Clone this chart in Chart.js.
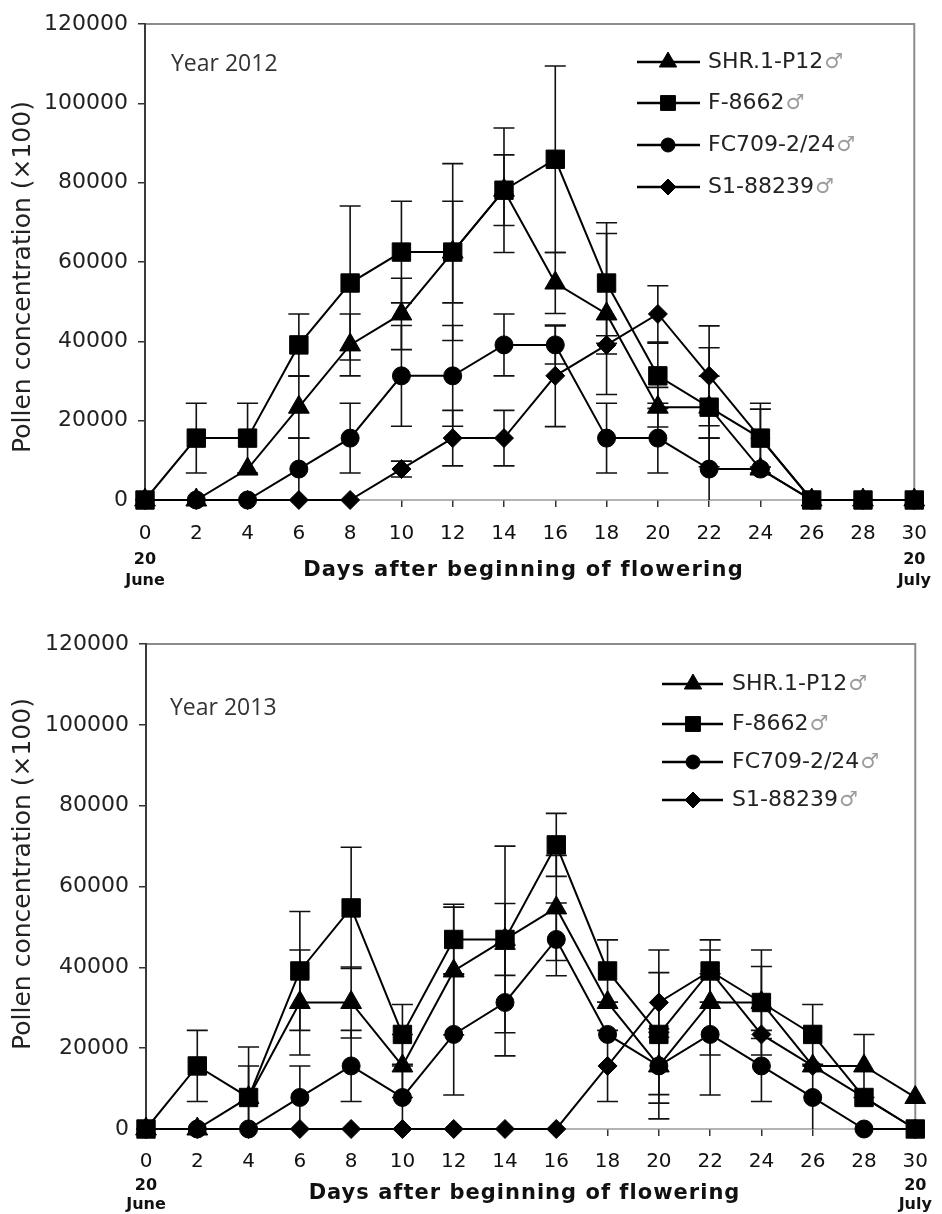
<!DOCTYPE html>
<html>
<head>
<meta charset="utf-8">
<script src="https://cdn.jsdelivr.net/npm/chart.js@4.4.1/dist/chart.umd.min.js"></script>
<style>
html,body{margin:0;padding:0;background:#fff;}
#wrap{position:relative;width:942px;height:1214px;overflow:hidden;}
canvas{position:absolute;left:0;}
#c1{top:0;}
#c2{top:600px;}
</style>
</head>
<body>
<div id="wrap">
<canvas id="c1" width="942" height="600"></canvas>
<canvas id="c2" width="942" height="614"></canvas>
</div>
<script>
// ---------- data ----------
const days = [0, 2, 4, 6, 8, 10, 12, 14, 16, 18, 20, 22, 24, 26, 28, 30];
const xTicks = [0, 2, 4, 6, 8, 10, 12, 14, 16, 18, 20, 22, 24, 26, 28, 30];
const yTicks = [0, 20000, 40000, 60000, 80000, 100000, 120000];
const seriesNames = ['SHR.1-P12', 'F-8662', 'FC709-2/24', 'S1-88239'];
const maleSign = '\u2642';
const yearLabels = ['Year 2012', 'Year 2013'];
const startDate = ['20', 'June'];
const endDate = ['20', 'July'];
const xTitle = 'Days after beginning of flowering';
const yTitle = 'Pollen concentration (\u00d7100)';

// Year 2012
const shr2012    = [0, 0, 7800, 23400, 39100, 46900, 62500, 78100, 54700, 46900, 23400, 23400, 7800, 0, 0, 0];
const shr2012Err = [0, 0, 0, 7800, 7800, 9000, 12800, 8900, 7700, 20300, 5000, 7800, 0, 0, 0, 0];
const f2012      = [0, 15600, 15600, 39100, 54700, 62500, 62500, 78100, 85900, 54700, 31300, 23400, 15600, 0, 0, 0];
const f2012Err   = [0, 8800, 8800, 7800, 19400, 12800, 22300, 15700, 23500, 15200, 8200, 15000, 8800, 0, 0, 0];
const fc2012     = [0, 0, 0, 7800, 15600, 31300, 31300, 39100, 39100, 15600, 15600, 7800, 7800, 0, 0, 0];
const fc2012Err  = [0, 0, 0, 7800, 8800, 12700, 12700, 7800, 4800, 8800, 8800, 7800, 0, 0, 0, 0];
const s12012     = [0, 0, 0, 0, 0, 7800, 15600, 15600, 31300, 39100, 46900, 31300, 15600, 0, 0, 0];
const s12012Err  = [0, 0, 0, 0, 0, 2000, 7000, 7000, 12800, 2300, 7100, 12600, 7300, 0, 0, 0];

// Year 2013
const shr2013    = [0, 0, 7800, 31300, 31300, 15600, 39100, 46900, 54700, 31300, 15600, 31300, 31300, 15600, 15600, 7800];
const shr2013Err = [0, 0, 7800, 13000, 8800, 7800, 15800, 8900, 13000, 0, 7100, 13000, 8900, 0, 7800, 0];
const f2013      = [0, 15600, 7800, 39100, 54700, 23400, 46900, 46900, 70300, 39100, 23400, 39100, 31300, 23400, 7800, 0];
const f2013Err   = [0, 8800, 12500, 14700, 15000, 7400, 8700, 23100, 7800, 7700, 20900, 7700, 13000, 7400, 0, 0];
const fc2013     = [0, 0, 0, 7800, 15600, 7800, 23400, 31300, 46900, 23400, 15600, 23400, 15600, 7800, 0, 0];
const fc2013Err  = [0, 0, 0, 7800, 8800, 7800, 15000, 13200, 9000, 0, 9200, 15000, 8800, 7800, 0, 0];
const s12013     = [0, 0, 0, 0, 0, 0, 0, 0, 0, 15600, 31300, 39100, 23400, 15600, 7800, 0];
const s12013Err  = [0, 0, 0, 0, 0, 0, 0, 0, 0, 8800, 7400, 0, 0, 0, 0, 0];

// ---------- styles ----------
const styles = [
  {pointStyle: 'triangle', radius: 12, legendRadius: 10, order: 2},
  {pointStyle: 'rect', radius: 13, legendRadius: 10.5, order: 0},
  {pointStyle: 'circle', radius: 9, legendRadius: 7, order: 1},
  {pointStyle: 'rectRot', radius: 9.5, legendRadius: 8, order: 3}
];

function pts(vals) { return days.map((d, i) => ({x: d, y: vals[i]})); }

function makeDatasets(valsList, errList) {
  return valsList.map((vals, k) => ({
    label: seriesNames[k],
    data: pts(vals),
    errors: errList[k],
    borderColor: '#000',
    backgroundColor: '#000',
    borderWidth: 2,
    pointStyle: styles[k].pointStyle,
    pointRadius: styles[k].radius,
    pointBackgroundColor: '#000',
    pointBorderColor: '#000',
    pointBorderWidth: 1,
    legendRadius: styles[k].legendRadius,
    order: styles[k].order,
    tension: 0,
    clip: false
  }));
}

// ---------- plugins ----------
const framePlugin = {
  id: 'frame',
  beforeDatasetsDraw(chart) {
    const {ctx, chartArea: a} = chart;
    ctx.save();
    ctx.strokeStyle = '#8c8c8c';
    ctx.lineWidth = 2;
    ctx.beginPath();
    ctx.moveTo(a.left, a.top); ctx.lineTo(a.right, a.top); ctx.lineTo(a.right, a.bottom);
    ctx.stroke();
    ctx.strokeStyle = '#9a9a9a';
    ctx.lineWidth = 1.5;
    ctx.beginPath(); ctx.moveTo(a.left, a.bottom); ctx.lineTo(a.right, a.bottom); ctx.stroke();
    ctx.strokeStyle = '#3a3a3a';
    ctx.lineWidth = 2;
    ctx.beginPath(); ctx.moveTo(a.left, a.top - 1); ctx.lineTo(a.left, a.bottom); ctx.stroke();
    ctx.restore();
  }
};

const errorBarPlugin = {
  id: 'errorBars',
  beforeDatasetsDraw(chart) {
    const {ctx} = chart;
    const xs = chart.scales.x, ys = chart.scales.y;
    ctx.save();
    ctx.strokeStyle = '#111';
    ctx.lineWidth = 1.6;
    chart.data.datasets.forEach(ds => {
      ds.errors.forEach((e, i) => {
        if (!e) return;
        const p = ds.data[i];
        const px = xs.getPixelForValue(p.x);
        const hi = ys.getPixelForValue(p.y + e);
        const lowV = Math.max(p.y - e, 0);
        const lo = ys.getPixelForValue(lowV);
        ctx.beginPath();
        ctx.moveTo(px, hi); ctx.lineTo(px, lo);
        ctx.moveTo(px - 10.5, hi); ctx.lineTo(px + 10.5, hi);
        if (lowV > 0) { ctx.moveTo(px - 10.5, lo); ctx.lineTo(px + 10.5, lo); }
        ctx.stroke();
      });
    });
    ctx.restore();
  }
};

const legendPlugin = {
  id: 'customLegend',
  afterDatasetsDraw(chart, args, o) {
    const ctx = chart.ctx;
    ctx.save();
    chart.data.datasets.forEach((ds, row) => {
      const y = o.rows[row];
      ctx.strokeStyle = '#000';
      ctx.lineWidth = 2.5;
      ctx.beginPath(); ctx.moveTo(o.x1, y); ctx.lineTo(o.x2, y); ctx.stroke();
      ctx.fillStyle = '#000';
      ctx.lineWidth = 1;
      Chart.helpers.drawPoint(ctx, {pointStyle: ds.pointStyle, radius: ds.legendRadius, rotation: 0, borderWidth: 1}, o.mx, y);
      ctx.font = '22px "DejaVu Sans"';
      ctx.textBaseline = 'middle';
      ctx.textAlign = 'left';
      ctx.fillStyle = '#222';
      ctx.fillText(ds.label, o.tx, y);
      const w = ctx.measureText(ds.label).width;
      ctx.fillStyle = '#9c9c9c';
      ctx.font = '21px "DejaVu Sans"';
      ctx.fillText(maleSign, o.tx + w + 1, y + 1);
    });
    ctx.restore();
  }
};

const textPlugin = {
  id: 'texts',
  afterDraw(chart, args, o) {
    const {ctx, chartArea: a} = chart;
    const xs = chart.scales.x;
    ctx.save();
    // year label
    ctx.textAlign = 'left';
    ctx.textBaseline = 'middle';
    ctx.fillStyle = '#333';
    ctx.font = '23px "Open Sans"';
    ctx.fillText(o.year, o.yearX, o.yearY);
    // x title
    ctx.font = 'bold 21px "DejaVu Sans"';
    ctx.fillStyle = '#111';
    ctx.textAlign = 'center';
    const w0 = ctx.measureText(xTitle).width;
    const sp = Math.max(0, (o.xTitleW - w0) / (xTitle.length - 1));
    if ('letterSpacing' in ctx) ctx.letterSpacing = sp.toFixed(2) + 'px';
    ctx.fillText(xTitle, o.xTitleX + sp / 2, a.bottom + o.xTitleDy);
    if ('letterSpacing' in ctx) ctx.letterSpacing = '0px';
    // date labels
    ctx.font = 'bold 16px "DejaVu Sans"';
    const x0 = xs.getPixelForValue(xTicks[0]);
    const x1 = xs.getPixelForValue(xTicks[xTicks.length - 1]);
    ctx.fillText(startDate[0], x0, a.bottom + o.d1);
    ctx.fillText(startDate[1], x0, a.bottom + o.d2);
    ctx.fillText(endDate[0], x1, a.bottom + o.d1);
    ctx.fillText(endDate[1], x1, a.bottom + o.d2);
    // y title
    ctx.translate(o.yTitleX, o.yTitleY);
    ctx.rotate(-Math.PI / 2);
    ctx.font = '25px "DejaVu Sans"';
    ctx.fillStyle = '#222';
    ctx.fillText(yTitle, 0, 0);
    ctx.restore();
  }
};

function makeChart(id, datasets, L) {
  return new Chart(document.getElementById(id), {
    type: 'line',
    data: {datasets: datasets},
    options: {
      responsive: false,
      animation: false,
      devicePixelRatio: 1,
      events: [],
      layout: {padding: {top: L.padTop, right: L.padRight, left: 0, bottom: 0}},
      plugins: {
        legend: {display: false},
        tooltip: {enabled: false},
        customLegend: L.legend,
        texts: L.texts
      },
      scales: {
        x: {
          type: 'linear', min: 0, max: 30,
          afterBuildTicks: s => { s.ticks = xTicks.map(v => ({value: v})); },
          afterFit: s => { s.height = L.xHeight; },
          grid: {drawOnChartArea: false, drawTicks: true, tickLength: 7, color: '#333', lineWidth: 1.5},
          border: {display: false},
          ticks: {font: {family: 'DejaVu Sans', size: 20}, color: '#111', padding: L.xTickPad,
                  maxRotation: 0, autoSkip: false, callback: v => String(v)}
        },
        y: {
          type: 'linear', min: 0, max: 120000,
          afterBuildTicks: s => { s.ticks = yTicks.map(v => ({value: v})); },
          afterFit: s => { s.width = L.yWidth; },
          grid: {drawOnChartArea: false, drawTicks: true, tickLength: 7, color: '#333', lineWidth: 1.5},
          border: {display: false},
          ticks: {font: {family: 'DejaVu Sans', size: 22}, color: '#222', padding: 10,
                  autoSkip: false, callback: v => String(v)}
        }
      }
    },
    plugins: [framePlugin, errorBarPlugin, legendPlugin, textPlugin]
  });
}

makeChart('c1',
  makeDatasets([shr2012, f2012, fc2012, s12012], [shr2012Err, f2012Err, fc2012Err, s12012Err]),
  {
    padTop: 24, padRight: 19, xHeight: 100, yWidth: 145, xTickPad: 15,
    legend: {rows: [62, 103, 145, 187], x1: 637, x2: 700, mx: 668, tx: 708},
    texts: {year: yearLabels[0], yearX: 171, yearY: 64, xTitleX: 523, xTitleW: 439, xTitleDy: 71,
            d1: 60, d2: 81, yTitleX: 23, yTitleY: 277}
  });

makeChart('c2',
  makeDatasets([shr2013, f2013, fc2013, s12013], [shr2013Err, f2013Err, fc2013Err, s12013Err]),
  {
    padTop: 44, padRight: 21, xHeight: 85, yWidth: 146, xTickPad: 14,
    legend: {rows: [84, 124, 162, 200], x1: 662, x2: 723, mx: 693, tx: 732},
    texts: {year: yearLabels[1], yearX: 170, yearY: 108, xTitleX: 524, xTitleW: 430, xTitleDy: 65,
            d1: 57, d2: 76, yTitleX: 23, yTitleY: 274}
  });
</script>
</body>
</html>
